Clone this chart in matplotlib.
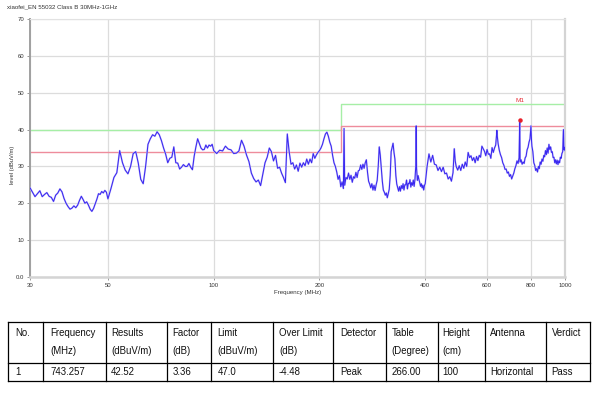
import matplotlib
matplotlib.use("Agg")
import matplotlib.pyplot as plt
from matplotlib.ticker import NullLocator

TITLE = "xiaofei_EN 55032 Class B 30MHz-1GHz"

# ---------------------------------------------------------------
# Measured trace (read off the scan), split by frequency band
# ---------------------------------------------------------------
freq_30_50 = [30, 30.5, 31, 31.5, 32, 32.5, 33, 33.5, 34, 34.5, 35, 35.5, 36, 36.5,
              37, 37.5, 38, 38.5, 39, 39.5, 40, 40.5, 41, 41.5, 42, 42.5, 43, 43.5,
              44, 44.5, 45, 45.5, 46, 46.5, 47, 47.5, 48, 48.5, 49, 49.5, 50]
level_30_50 = [24.2, 23.0, 21.8, 22.6, 23.4, 21.8, 22.4, 22.9, 21.9, 21.6, 20.5, 22.2,
               22.8, 23.9, 23.1, 21.3, 20.0, 19.1, 18.4, 18.7, 19.3, 18.8, 19.5, 20.8,
               21.9, 21.0, 20.0, 20.4, 19.5, 18.4, 17.8, 18.6, 19.9, 21.1, 22.6, 22.4,
               23.2, 22.8, 23.5, 23.0, 21.2]

freq_50_100 = [51, 52, 53, 54, 55, 56, 57, 58, 59, 60, 61, 62, 63, 64, 65, 66, 67, 68,
               69, 70, 71, 72, 73, 74, 75, 76, 77, 78, 79, 80, 81, 82, 83, 84, 85, 86,
               87, 88, 89, 90, 91, 92, 93, 94, 95, 96, 97, 98, 99, 100]
level_50_100 = [24.0, 27.0, 28.3, 34.3, 31.0, 29.0, 28.0, 30.0, 33.5, 34.0, 30.9, 26.5,
                25.3, 30.0, 36.0, 37.5, 38.6, 38.2, 39.4, 38.6, 37.0, 35.0, 33.3, 31.0,
                32.2, 32.5, 35.3, 31.0, 30.9, 29.3, 29.8, 30.5, 30.0, 30.0, 30.8, 29.8,
                29.1, 32.8, 35.3, 37.5, 36.2, 35.0, 34.5, 34.6, 35.8, 35.0, 35.8, 35.5,
                36.0, 34.3]

freq_100_230 = [102, 104, 106, 108, 110, 112, 114, 116, 118, 120, 122, 124, 126, 128,
                130, 132, 134, 136, 138, 140, 142, 144, 146, 148, 150, 152, 154, 156,
                158, 160, 162, 164, 166, 168, 170, 172, 174, 176, 178, 180, 182, 184,
                186, 188, 190, 192, 194, 196, 198, 200, 202, 204, 206, 208, 210, 212,
                214, 216, 218, 220, 222, 224, 226, 228]
level_100_230 = [33.5, 34.4, 34.2, 35.5, 34.7, 34.5, 33.5, 33.6, 34.2, 37.1, 35.5, 33.1,
                 31.3, 28.2, 26.7, 25.8, 26.3, 24.8, 28.0, 31.0, 32.5, 35.0, 34.0, 31.5,
                 33.0, 29.5, 29.8, 28.2, 27.0, 25.6, 38.8, 34.0, 30.6, 31.0, 29.3, 30.4,
                 28.7, 30.9, 29.8, 31.0, 30.2, 32.0, 30.6, 32.0, 31.0, 33.5, 32.2, 33.1,
                 33.8, 34.3, 35.0, 36.0, 37.5, 38.8, 39.3, 38.2, 36.6, 35.5, 33.0, 31.0,
                 30.0, 28.5, 26.5, 27.5]

freq_230_400 = [230, 232, 234, 235, 236, 238, 240, 242, 244, 246, 248, 250, 252, 254,
                256, 258, 260, 262, 264, 266, 268, 270, 272, 274, 276, 278, 280, 282,
                284, 286, 288, 290, 292, 294, 296, 298, 300, 302, 304, 306, 308, 310,
                312, 314, 316, 318, 320, 322, 324, 326, 328, 330, 332, 334, 336, 338,
                340, 342, 344, 346, 348, 350, 352, 354, 356, 358, 360, 362, 364, 366,
                368, 370, 372, 374, 376, 377, 378, 380, 382, 384, 386, 388, 390, 392,
                394, 396, 398, 400]
level_230_400 = [24.5, 25.8, 24.0, 40.3, 24.9, 27.0, 26.6, 28.2, 26.5, 27.6, 25.7, 27.2,
                 26.8, 28.4, 27.0, 28.8, 29.0, 30.4, 29.2, 30.6, 29.5, 31.0, 31.8, 28.5,
                 26.0, 25.2, 24.2, 25.3, 23.6, 24.9, 23.5, 25.0, 26.2, 30.0, 35.3, 33.0,
                 29.4, 26.0, 23.6, 23.0, 22.2, 22.8, 21.5, 22.6, 23.8, 27.5, 34.0, 35.2,
                 36.3, 33.8, 32.0, 27.5, 25.2, 24.2, 23.3, 24.5, 23.3, 24.8, 24.0, 25.3,
                 23.6, 25.0, 25.0, 26.3, 23.9, 25.4, 25.3, 26.4, 24.4, 25.6, 24.9, 26.3,
                 24.6, 26.4, 30.0, 41.0, 29.5, 26.2, 27.5, 26.4, 25.6, 24.6, 25.3, 24.2,
                 24.9, 23.6, 24.8, 25.3]

freq_400_1000 = [405, 410, 415, 420, 425, 430, 435, 440, 445, 450, 455, 460, 465, 470,
                 475, 480, 484, 487, 490, 495, 500, 505, 510, 515, 520, 525, 530, 535,
                 540, 545, 550, 555, 560, 565, 570, 575, 580, 585, 590, 595, 600, 605,
                 610, 615, 620, 625, 630, 635, 640, 642, 645, 650, 655, 660, 665, 670,
                 675, 680, 685, 690, 695, 700, 705, 710, 715, 720, 725, 730, 735, 740,
                 743.257, 745, 750, 755, 760, 765, 770, 775, 780, 785, 790, 795, 800,
                 803, 805, 810, 815, 820, 825, 830, 835, 840, 845, 850, 855, 860, 865,
                 870, 875, 880, 885, 890, 895, 900, 905, 910, 915, 920, 925, 930, 935,
                 940, 945, 950, 955, 960, 965, 970, 975, 980, 985, 990, 993, 996, 1000]
level_400_1000 = [30.0, 33.4, 31.2, 33.0, 30.6, 30.4, 28.9, 29.8, 28.6, 29.8, 28.0, 28.2,
                  26.6, 27.2, 26.0, 28.3, 34.8, 31.5, 30.0, 29.0, 30.2, 28.9, 30.6, 29.5,
                  31.2, 30.0, 33.8, 32.4, 32.9, 31.6, 32.4, 31.0, 32.7, 31.6, 33.0, 32.5,
                  35.5, 34.8, 34.1, 32.9, 34.6, 33.3, 33.4, 32.2, 35.1, 33.8, 35.0, 35.8,
                  39.8, 38.0, 36.2, 34.4, 33.2, 32.4, 31.0, 30.3, 29.2, 29.3, 28.2, 28.5,
                  27.3, 27.8, 26.6, 27.4, 28.2, 29.4, 30.2, 31.5, 30.8, 32.3, 42.52, 31.2,
                  31.8, 30.6, 31.2, 30.8, 32.3, 32.8, 34.5, 35.2, 36.6, 37.5, 41.0, 37.0,
                  35.5, 34.0, 31.0, 30.3, 28.9, 29.4, 28.5, 30.0, 29.4, 31.2, 30.6, 32.0,
                  31.4, 33.0, 32.6, 34.3, 33.2, 35.0, 33.6, 36.0, 34.6, 35.3, 33.8, 34.0,
                  32.4, 32.5, 31.0, 31.8, 30.7, 31.7, 30.5, 31.5, 31.0, 32.5, 32.2, 33.5,
                  34.0, 40.0, 34.5, 35.2, 34.3]

# Limit lines (EN 55032 class B) and the -6 dB margin line
limit_freq = [30, 230, 230, 1000]
limit_class_b = [40, 40, 47, 47]
limit_margin = [34, 34, 41, 41]

marker_freq = 743.257
marker_level = 42.52

x_ticks = [30, 50, 100, 200, 400, 600, 800, 1000]
x_tick_labels = ["30", "50", "100", "200", "400", "600", "800", "1000"]
y_ticks = [0, 10, 20, 30, 40, 50, 60, 70]
y_tick_labels = ["0.0", "10", "20", "30", "40", "50", "60", "70"]

table_head_1 = ["No.", "Frequency", "Results", "Factor", "Limit", "Over Limit",
                "Detector", "Table", "Height", "Antenna", "Verdict"]
table_head_2 = ["", "(MHz)", "(dBuV/m)", "(dB)", "(dBuV/m)", "(dB)",
                "", "(Degree)", "(cm)", "", ""]
table_row = ["1", "743.257", "42.52", "3.36", "47.0", "-4.48",
             "Peak", "266.00", "100", "Horizontal", "Pass"]


def main():
    plt.rcParams["font.family"] = ["Liberation Sans", "DejaVu Sans"]

    freqs = freq_30_50 + freq_50_100 + freq_100_230 + freq_230_400 + freq_400_1000
    levels = level_30_50 + level_50_100 + level_100_230 + level_230_400 + level_400_1000

    fig = plt.figure(figsize=(6.0, 3.93), dpi=100)
    fig.patch.set_facecolor("white")

    # ------------------------------------------------------------------
    # Spectrum plot
    # ------------------------------------------------------------------
    ax = fig.add_axes([30 / 600, 1 - 277 / 393, 535 / 600, 258 / 393])
    ax.set_xscale("log")
    ax.set_xlim(30, 1000)
    ax.set_ylim(0, 70)

    ax.plot(limit_freq, limit_class_b, color="#a6eea6", lw=1.0, zorder=2)
    ax.plot(limit_freq, limit_margin, color="#ee8c9c", lw=1.0, zorder=2)
    # faint halo under the trace, like the anti-aliased receiver plot
    ax.plot(freqs, levels, color="#cdc8fb", lw=1.3, zorder=3)
    ax.plot(freqs, levels, color="#3a28f0", lw=0.75, zorder=3)
    ax.plot([marker_freq], [marker_level], "o", color="#e8202a", ms=2.2, zorder=4)
    ax.text(marker_freq, 47.9, "M1", color="#e8303a", fontsize=4.6,
            ha="center", va="center", zorder=4)

    ax.set_xticks(x_ticks)
    ax.set_xticklabels(x_tick_labels)
    ax.xaxis.set_minor_locator(NullLocator())
    ax.set_yticks(y_ticks)
    ax.set_yticklabels(y_tick_labels)
    ax.tick_params(labelsize=4.3, colors="#333333", length=2.5, width=0.6, pad=1.5)
    ax.tick_params(axis="both", color="#888888")

    ax.grid(True, color="#dcdcdc", lw=0.9)
    ax.set_axisbelow(True)

    ax.spines["left"].set_color("#a0a0a0")
    ax.spines["left"].set_linewidth(1.4)
    ax.spines["bottom"].set_color("#d4d4d4")
    ax.spines["bottom"].set_linewidth(1.8)
    ax.spines["right"].set_color("#d4d4d4")
    ax.spines["right"].set_linewidth(1.6)
    ax.spines["top"].set_color("#e2e2e2")
    ax.spines["top"].set_linewidth(0.8)

    ax.set_xlabel("Frequency (MHz)", fontsize=4.4, color="#333333", labelpad=2)
    fig.text(13 / 600, 1 - 165 / 393, "level (dBuV/m)", rotation=90, fontsize=4.2,
             color="#333333", ha="center", va="center")
    fig.text(7 / 600, 1 - 7 / 393, TITLE, fontsize=4.4, color="#333333",
             ha="left", va="center")

    # ------------------------------------------------------------------
    # Result table (drawn in pixel coordinates)
    # ------------------------------------------------------------------
    tab = fig.add_axes([0, 0, 1, 1], facecolor="none")
    tab.set_xlim(0, 600)
    tab.set_ylim(393, 0)
    tab.axis("off")

    col_edges = [8.3, 43.3, 106, 166.7, 210.7, 272.7, 333.3, 386, 438.3, 485, 545.7, 590]
    row_edges = [322.3, 362.7, 381]
    for yy in row_edges:
        tab.plot([col_edges[0], col_edges[-1]], [yy, yy], color="black", lw=0.9)
    for xx in col_edges:
        tab.plot([xx, xx], [row_edges[0], row_edges[-1]], color="black", lw=0.9)

    text_x = [15.7, 50, 111, 172.7, 217.3, 279, 340, 391.7, 442.7, 490, 551.7]
    for i, x0 in enumerate(text_x):
        tab.text(x0, 332.5, table_head_1[i], fontsize=6.9, color="#111111",
                 ha="left", va="center")
        if table_head_2[i]:
            tab.text(x0, 351.5, table_head_2[i], fontsize=6.9, color="#111111",
                     ha="left", va="center")
        tab.text(x0, 371.8, table_row[i], fontsize=6.9, color="#111111",
                 ha="left", va="center")

    fig.savefig("out.png", dpi=100, facecolor="white")
    plt.close(fig)


if __name__ == "__main__":
    main()
